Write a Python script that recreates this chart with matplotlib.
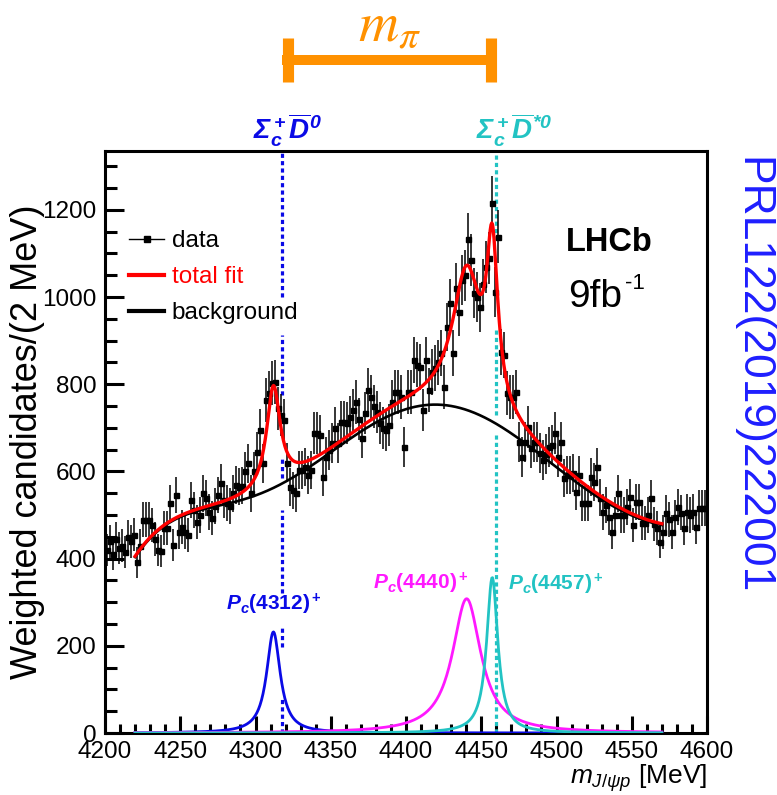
import numpy as np
import matplotlib
matplotlib.use("Agg")
import matplotlib.pyplot as plt
from matplotlib.lines import Line2D

plt.rcParams['font.family'] = ['Liberation Sans', 'DejaVu Sans']
plt.rcParams['mathtext.fontset'] = 'custom'
plt.rcParams['mathtext.rm'] = 'Liberation Sans'
plt.rcParams['mathtext.it'] = 'Liberation Sans:italic'
plt.rcParams['mathtext.bf'] = 'Liberation Sans:bold'
plt.rcParams['mathtext.bfit'] = 'Liberation Sans:bold:italic'
plt.rcParams['mathtext.sf'] = 'Liberation Sans'

# ---------------- data (2 MeV bins, 4200-4600) ----------------
bin_lo = 4200
bin_width = 2
counts = [
    420, 440, 410, 445, 425, 430, 415, 450, 440, 455,
    392, 430, 489, 489, 489, 477, 445, 420, 418, 470,
    470, 527, 431, 546, 461, 473, 460, 454, 534, 511,
    484, 500, 550, 539, 507, 493, 520, 546, 573, 534,
    527, 520, 550, 569, 565, 567, 600, 619, 550, 600,
    645, 695, 619, 764, 780, 803, 805, 745, 730, 718,
    620, 564, 557, 550, 603, 603, 610, 592, 603, 688,
    688, 683, 587, 633, 649, 665, 700, 665, 713, 713,
    711, 725, 741, 759, 720, 677, 734, 787, 771, 750,
    736, 711, 700, 695, 706, 760, 782, 782, 771, 656,
    782, 782, 856, 845, 840, 741, 856, 787, 828, 837,
    850, 871, 794, 931, 986, 871, 1020, 966, 1039, 1050,
    1133, 1085, 1009, 1000, 977, 1030, 1069, 1090, 1216, 1012,
    1138, 874, 867, 780, 771, 771, 782, 667, 633, 667,
    702, 654, 667, 667, 642, 626, 640, 656, 661, 688,
    633, 667, 585, 592, 592, 596, 553, 592, 527, 527,
    527, 587, 576, 610, 540, 507, 523, 495, 461, 500,
    550, 500, 500, 518, 541, 477, 530, 530, 482, 482,
    500, 539, 480, 470, 438, 461, 505, 490, 461, 495,
    518, 505, 470, 507, 500, 507, 473, 516, 516, 516,
]

# background shape, MeV -> candidates
bg_mass = [4220, 4230, 4240, 4250, 4260, 4270, 4280, 4290, 4300, 4310,
           4320, 4330, 4340, 4350, 4360, 4370, 4380, 4390, 4400, 4410,
           4420, 4430, 4440, 4450, 4460, 4470, 4480, 4490, 4500, 4510,
           4520, 4530, 4540, 4550, 4560, 4570]
bg_vals = [404, 445, 478, 496, 508, 516, 524, 533, 545, 560,
           578, 598, 620, 643, 667, 690, 712, 730, 743, 751,
           755, 752, 742, 727, 707, 684, 660, 638, 615, 585,
           557, 533, 514, 500, 488, 476]

# Pc states: name, mass, width (displayed), peak height, colour
pc_names = ['4312', '4440', '4457']
pc_mass = [4311.9, 4440.3, 4457.3]
pc_width = [11.0, 23.0, 9.0]
pc_peak = [232, 308, 357]
pc_colors = ['#0a0ae6', '#ff19ff', '#22c3c3']

thr_names = [r'$\mathbfit{\Sigma_c^+\overline{D}^0}$',
             r'$\mathbfit{\Sigma_c^+\overline{D}^{*0}}$']
thr_mass = [4317.7, 4459.9]
thr_colors = ['#0a0ae6', '#22c3c3']

fit_range = (4220, 4570)

# ---------------- figure ----------------
fig = plt.figure(figsize=(7.77, 7.95), dpi=100)
ax = fig.add_axes([105/777, 62/795, 602/777, 582/795])

x_centres = bin_lo + bin_width * (np.arange(len(counts)) + 0.5)
y = np.array(counts, dtype=float)
yerr = 1.8 * np.sqrt(y)

mfine = np.arange(fit_range[0], fit_range[1] + 0.01, 0.5)
t = (np.array(bg_mass) - 4395.0) / 175.0
coef = np.polyfit(t, bg_vals, 8)
bg_curve = np.polyval(coef, (mfine - 4395.0) / 175.0)

def bw(m, m0, g, h):
    return h * (g / 2) ** 2 / ((m - m0) ** 2 + (g / 2) ** 2)

sig_curves = [bw(mfine, m0, g, h) for m0, g, h in zip(pc_mass, pc_width, pc_peak)]
total_curve = bg_curve + sum(sig_curves)

# threshold lines (broken where they pass through labels/curves)
blue_segments = [(1000, 1335), (776, 913), (585, 633), (321, 512), (197, 243), (0, 83)]
cyan_segments = [(1131, 1335), (730, 925), (0, 684)]
for (segs, xm, col) in [(blue_segments, thr_mass[0], thr_colors[0]),
                        (cyan_segments, thr_mass[1], thr_colors[1])]:
    for lo, hi in segs:
        ax.plot([xm, xm], [lo, hi], color=col, lw=2.3, ls=(0, (1.3, 1.0)),
                zorder=2, solid_capstyle='butt', dash_capstyle='butt')

# signal components
for sc, col in zip(sig_curves, pc_colors):
    ax.plot(mfine, sc, color=col, lw=2.0, zorder=3)

# background and total fit
ax.plot(mfine, bg_curve, color='black', lw=1.9, zorder=4)
ax.errorbar(x_centres, y, yerr=yerr, xerr=bin_width / 2, fmt='s', color='black',
            ms=3.6, elinewidth=1.1, capsize=0, zorder=5)
ax.plot(mfine, total_curve, color='#ff0000', lw=2.4, zorder=6)

ax.set_xlim(4200, 4600)
ax.set_ylim(0, 1335)

# ticks
ax.set_xticks(np.arange(4200, 4601, 50))
ax.set_xticks(np.arange(4200, 4601, 10), minor=True)
ax.set_yticks(np.arange(0, 1201, 200))
ax.set_yticks(np.arange(0, 1301, 50), minor=True)
ax.tick_params(axis='both', which='both', direction='in', top=False, right=False,
               width=2.2, labelsize=17.5, pad=6)
ax.tick_params(axis='x', which='major', length=12)
ax.tick_params(axis='x', which='minor', length=6.5)
ax.tick_params(axis='y', which='major', length=14)
ax.tick_params(axis='y', which='minor', length=8.5)
for sp in ax.spines.values():
    sp.set_linewidth(2.2)

ax.set_ylabel('Weighted candidates/(2 MeV)', fontsize=26, va='center')
ax.yaxis.set_label_coords(-0.128, 0.5)
ax.set_xlabel(r'$m_{J/\psi p}$ [MeV]', fontsize=19, loc='right', labelpad=-1)

# legend
handles = [Line2D([], [], color='black', lw=1.0, marker='s', ms=4),
           Line2D([], [], color='#ff0000', lw=3),
           Line2D([], [], color='black', lw=3)]
leg = ax.legend(handles, ['data', 'total fit', 'background'], loc='upper left',
                bbox_to_anchor=(0.02, 0.885), frameon=False, fontsize=17.5,
                handlelength=1.45, handletextpad=0.3, labelspacing=0.58, borderpad=0)
for txt, col in zip(leg.get_texts(), ['black', '#ff0000', 'black']):
    txt.set_color(col)

# labels of Pc states
pc_label_pos = [(4312, 294), (4410, 344), (4499.5, 340)]
for name, col, (lx, ly) in zip(pc_names, pc_colors, pc_label_pos):
    ax.text(lx, ly, r'$\mathbfit{P}_{\mathbfit{c}}\mathbf{(' + name + r')^+}$',
            color=col, fontsize=15, ha='center', va='center')

# threshold labels
thr_label_x = [4321, 4472]
for lab, col, lx in zip(thr_names, thr_colors, thr_label_x):
    ax.text(lx, 1.036, lab, color=col, fontsize=20, ha='center', va='center',
            transform=ax.get_xaxis_transform())

# m_pi bracket
orange = '#ff9100'
ax.plot([thr_mass[0], thr_mass[1]], [1.156, 1.156], color=orange, lw=7.2,
        solid_capstyle='butt', transform=ax.get_xaxis_transform(), clip_on=False)
for xc in [thr_mass[0] + 3.7, thr_mass[1] - 3.7]:
    ax.plot([xc, xc], [1.1186, 1.194], color=orange, lw=8,
            solid_capstyle='butt', transform=ax.get_xaxis_transform(), clip_on=False)
ax.text(4389, 1.213, r'$m_\pi$', color=orange, fontsize=40, ha='center', va='center',
        transform=ax.get_xaxis_transform(), math_fontfamily='stix')

# LHCb labels
ax.text(4535, 1124, 'LHCb', fontsize=23.5, fontweight='bold', ha='center', va='center')
ax.text(4508, 1000, '9fb', fontsize=28, ha='left', va='center')
ax.text(4545.5, 1030, '-1', fontsize=16, ha='left', va='center')

# reference
fig.text(0.968, 0.528, 'PRL122(2019)222001', rotation=-90, color='#1e1eff',
         fontsize=32, ha='center', va='center')

fig.savefig('out.png', dpi=100)
